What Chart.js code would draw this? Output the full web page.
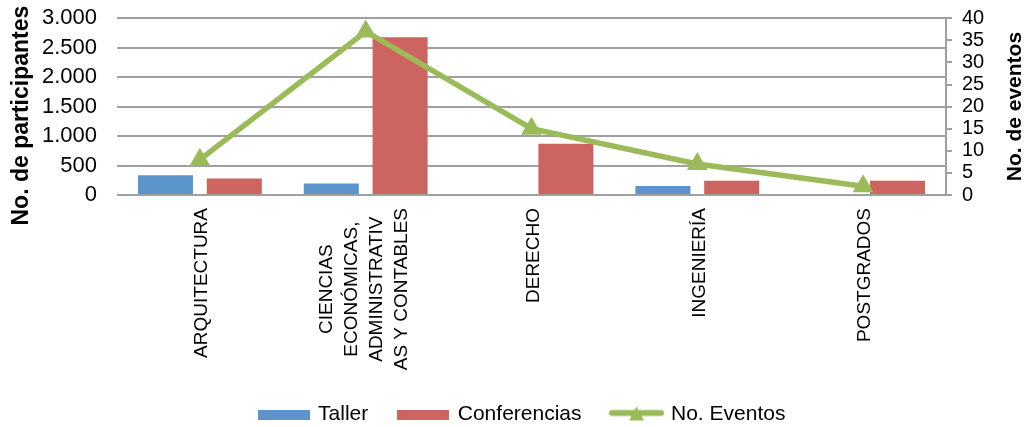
<!DOCTYPE html>
<html>
<head>
<meta charset="utf-8">
<script src="https://cdn.jsdelivr.net/npm/chart.js@4"></script>
<style>
  html, body { margin: 0; padding: 0; background: #fff; }
  #wrap { width: 1025px; height: 427px; position: relative; }
</style>
</head>
<body>
<div id="wrap"><canvas id="chart"></canvas></div>
<script>
'use strict';

// ---------- データ ----------
const categories = [
  'ARQUITECTURA',
  ['CIENCIAS', 'ECONÓMICAS,', 'ADMINISTRATIV', 'AS Y CONTABLES'],
  'DERECHO',
  'INGENIERÍA',
  'POSTGRADOS'
];
const taller = [336, 197, 0, 151, 0];
const conferencias = [281, 2675, 870, 241, 241];
const eventos = [8, 37, 15, 7, 2];
const leftTicks = [0, 500, 1000, 1500, 2000, 2500, 3000];
const rightTicks = [0, 5, 10, 15, 20, 25, 30, 35, 40];

// ---------- 色・フォント ----------
const BLUE = '#5B95CB', RED = '#CC6560', GREEN = '#9BBB59', GRID = '#A0A0A0';
const FONT = 'Liberation Sans, Arial, sans-serif';
const dotThousands = (v) => String(v).replace(/\B(?=(\d{3})+(?!\d))/g, '.');

// 凡例アイコン
function boxIcon(color) {
  const c = document.createElement('canvas');
  c.width = 52; c.height = 10;
  const g = c.getContext('2d');
  g.fillStyle = color; g.fillRect(0, 0, 52, 10);
  return c;
}
function lineIcon(color) {
  const c = document.createElement('canvas');
  c.width = 55; c.height = 22;
  const g = c.getContext('2d');
  g.strokeStyle = color; g.lineWidth = 6; g.lineCap = 'round';
  g.beginPath(); g.moveTo(3, 9.5); g.lineTo(52, 9.5); g.stroke();
  g.fillStyle = color;
  g.beginPath(); g.moveTo(27.5, 3); g.lineTo(35, 17); g.lineTo(20, 17); g.closePath(); g.fill();
  return c;
}
const legendOrder = [1, 2, 0];
const legendIcons = [boxIcon(BLUE), boxIcon(RED), lineIcon(GREEN)];

// 軸タイトル(どちらも下から上へ読む向き)と縦書きのカテゴリ名
const textPlugin = {
  id: 'textPlugin',
  afterLayout(chart) {
    // 凡例の位置を微調整
    const lg = chart.legend;
    lg.top += 8; lg.bottom += 8; lg.left += 10; lg.right += 10;
  },
  afterDraw(chart) {
    const { ctx, chartArea } = chart;
    const mid = (chartArea.top + chartArea.bottom) / 2;
    ctx.save();
    ctx.fillStyle = '#000';
    ctx.textAlign = 'center'; ctx.textBaseline = 'middle';
    [[22, mid + 9, 'No. de participantes', 23], [1015, mid, 'No. de eventos', 21]].forEach(([x, y, t, fs]) => {
      ctx.font = 'bold ' + fs + 'px ' + FONT;
      ctx.save(); ctx.translate(x, y); ctx.rotate(-Math.PI / 2);
      ctx.fillText(t, 0, 0); ctx.restore();
    });
    ctx.font = '19px ' + FONT;
    const xs = chart.scales.x, lh = 25, top = chartArea.bottom + 13;
    categories.forEach((lab, i) => {
      const lines = Array.isArray(lab) ? lab : [lab];
      const w = Math.max(...lines.map(l => ctx.measureText(l).width));
      const cx = xs.getPixelForValue(i) + (lines.length > 1 ? -1 : 2);
      lines.forEach((l, j) => {
        ctx.save();
        ctx.translate(cx + (j - (lines.length - 1) / 2) * lh, top + w / 2);
        ctx.rotate(-Math.PI / 2);
        ctx.fillText(l, 0, 0);
        ctx.restore();
      });
    });
    ctx.restore();
  }
};

new Chart(document.getElementById('chart'), {
  data: {
    labels: categories,
    datasets: [
      { type: 'line', label: 'No. Eventos', data: eventos, yAxisID: 'y1', order: 0,
        borderColor: GREEN, backgroundColor: GREEN, borderWidth: 5.5, tension: 0,
        pointStyle: 'triangle', pointRadius: 12, pointBorderWidth: 0, pointBackgroundColor: GREEN },
      { type: 'bar', label: 'Taller', data: taller, yAxisID: 'y', order: 1,
        backgroundColor: BLUE, categoryPercentage: 0.83, barPercentage: 0.8 },
      { type: 'bar', label: 'Conferencias', data: conferencias, yAxisID: 'y', order: 2,
        backgroundColor: RED, categoryPercentage: 0.83, barPercentage: 0.8 }
    ]
  },
  options: {
    responsive: true, maintainAspectRatio: false, animation: false,
    layout: { padding: 0 },
    plugins: {
      tooltip: { enabled: false },
      legend: {
        position: 'bottom',
        labels: {
          usePointStyle: true, pointStyleWidth: 48, boxHeight: 10, padding: 31,
          color: '#000', font: { family: FONT, size: 21 },
          sort: (a, b) => legendOrder.indexOf(a.datasetIndex) - legendOrder.indexOf(b.datasetIndex),
          generateLabels: (chart) => Chart.defaults.plugins.legend.labels.generateLabels(chart)
            .map((l) => ({ ...l, pointStyle: legendIcons[legendOrder.indexOf(l.datasetIndex)] }))
        }
      }
    },
    scales: {
      x: {
        grid: { display: false }, border: { display: false },
        ticks: { display: false },
        afterFit: (s) => { s.height = 170; }
      },
      y: {
        position: 'left', min: 0, max: 3000,
        afterBuildTicks: (s) => { s.ticks = leftTicks.map(v => ({ value: v })); },
        grid: { color: GRID, lineWidth: 2, drawTicks: true, tickLength: 15, tickColor: 'rgba(0,0,0,0)' },
        border: { display: false },
        ticks: { autoSkip: false, padding: 5, color: '#000', font: { family: FONT, size: 22, lineHeight: 1.2 },
          callback: (v) => dotThousands(v) },
        afterFit: (s) => { s.width = 117; }
      },
      y1: {
        position: 'right', min: 0, max: 40,
        afterBuildTicks: (s) => { s.ticks = rightTicks.map(v => ({ value: v })); },
        grid: { drawOnChartArea: false, color: GRID, lineWidth: 2, tickLength: 6 },
        border: { display: true, color: GRID, width: 2 },
        ticks: { autoSkip: false, padding: 10, color: '#000', font: { family: FONT, size: 20, lineHeight: 0.8 } },
        afterFit: (s) => { s.width = 79; }
      }
    }
  },
  plugins: [textPlugin]
});
</script>
</body>
</html>
